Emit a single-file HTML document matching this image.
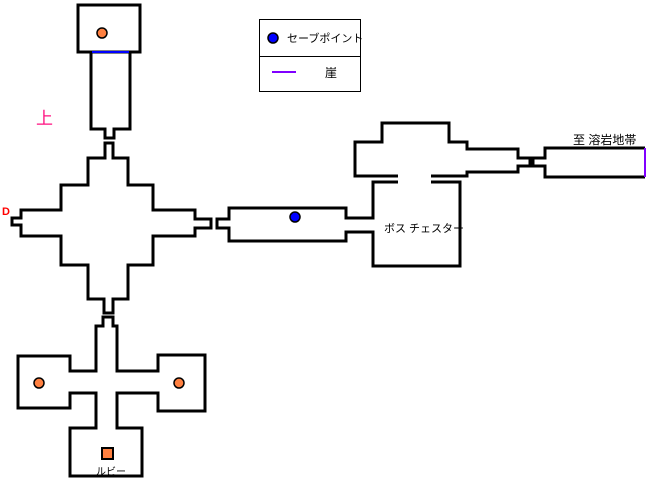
<!DOCTYPE html>
<html><head><meta charset="utf-8"><style>
html,body{margin:0;padding:0;background:#fff;}
svg{display:block;}
text{font-family:"Liberation Sans","Noto Sans CJK JP",sans-serif;}
</style></head><body>
<svg width="650" height="482" viewBox="0 0 650 482" xmlns="http://www.w3.org/2000/svg">
<g fill="none" stroke="#000" stroke-width="3" stroke-linejoin="miter">
<rect x="78" y="5" width="62" height="47"/>
<polyline points="91,52 91,129 105,129 105,138 114,138 114,129 130,129 130,52"/>
<polygon points="105,158 105,143 113,143 113,158 128,158 128,185 153,185 153,210 195,210 195,219 211,219 211,228 195,228 195,236 153,236 153,265 128,265 128,299 113,299 113,313 104,313 104,299 88,299 88,265 61,265 61,236 21,236 21,225 12,225 12,218 21,218 21,210 61,210 61,185 88,185 88,158"/>
<polyline points="398,182 373,182 373,218 346,218 346,208 229,208 229,219 217,219 217,228 229,228 229,241 346,241 346,232 373,232 373,266 460,266 460,182 431,182"/>
<polyline points="398,176 355,176 355,142 382,142 382,123 449,123 449,142 467,142 467,149 518,149 518,158 530,158 530,166 518,166 518,172 467,172 467,176 431,176"/>
<polyline points="645,148 545,148 545,158 533,158 533,166 545,166 545,177 645,177"/>
<polygon points="96,326 103,326 103,317 113,317 113,326 117,326 117,371 158,371 158,355 205,355 205,411 158,411 158,393 117,393 117,428 142,428 142,476 70,476 70,428 96,428 96,393 70,393 70,408 18,408 18,356 70,356 70,371 96,371"/>
</g>
<line x1="92" y1="52" x2="129" y2="52" stroke="#0000ff" stroke-width="2"/>
<line x1="645" y1="148" x2="645" y2="177" stroke="#8000ff" stroke-width="2"/>
<circle cx="102" cy="33" r="5" fill="#ff8040" stroke="#000" stroke-width="1.5"/>
<circle cx="39" cy="383" r="5" fill="#ff8040" stroke="#000" stroke-width="1.5"/>
<circle cx="179" cy="383" r="5" fill="#ff8040" stroke="#000" stroke-width="1.5"/>
<rect x="102" y="448" width="11" height="11" fill="#ff8040" stroke="#000" stroke-width="2"/>
<circle cx="295" cy="217" r="5" fill="#0000ff" stroke="#000" stroke-width="1.5"/>
<!-- legend -->
<rect x="259.5" y="19.5" width="101" height="72" fill="none" stroke="#000" stroke-width="1"/>
<line x1="259" y1="56.5" x2="361" y2="56.5" stroke="#000" stroke-width="1"/>
<circle cx="273" cy="38" r="5" fill="#0000ff" stroke="#000" stroke-width="1.5"/>
<text x="287" y="42" font-size="11">セーブポイント</text>
<line x1="272" y1="72" x2="296" y2="72" stroke="#8000ff" stroke-width="2"/>
<text x="325" y="77" font-size="12">崖</text>
<text x="36" y="124" font-size="17" fill="#ff1080">上</text>
<text x="2" y="215" font-size="11" font-weight="bold" fill="#ff0000">D</text>
<text x="384" y="232" font-size="11">ボス チェスター</text>
<text x="573" y="144" font-size="12">至 溶岩地帯</text>
<text x="96" y="475" font-size="10">ルビー</text>
</svg>
</body></html>
